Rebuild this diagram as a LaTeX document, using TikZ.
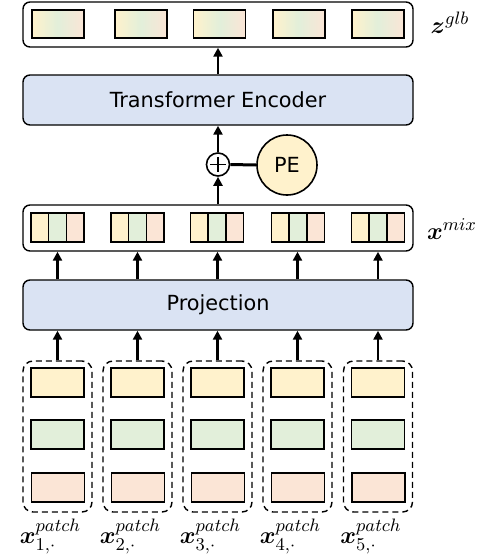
\documentclass[tikz,border=0pt]{standalone}
\usepackage{amsmath,bm}
\usepackage{fontspec}
\setsansfont{DejaVu Sans}
\usetikzlibrary{arrows.meta}
\definecolor{cy}{HTML}{FFF2CC}
\definecolor{cg}{HTML}{E2EFDA}
\definecolor{cp}{HTML}{FBE5D6}
\definecolor{cb}{HTML}{DAE3F3}
\def\u{0.5pt}
\tikzset{
  outer/.style={draw, rounded corners=3.5pt, line width=0.7pt, minimum width=390*\u, minimum height=46*\u, inner sep=0pt},
  blk/.style={draw, line width=0.7pt, rounded corners=3.5pt, fill=cb, minimum width=390*\u, minimum height=50*\u, font=\sffamily\fontsize{10.4}{12}\selectfont},
  cell/.style={draw, line width=0.8pt, minimum width=53*\u, minimum height=29*\u, inner sep=0pt},
  sub/.style={draw, line width=0.8pt, minimum width=53/3*\u, minimum height=29*\u, inner sep=0pt},
  grp/.style={draw, dashed, dash pattern=on 3pt off 2pt, line width=0.7pt, rounded corners=5pt, minimum width=69*\u, minimum height=151*\u, inner sep=0pt},
  arr/.style={-{Triangle[length=4.5pt,width=4.5pt]}, line width=1.4pt},
  lab/.style={inner sep=0pt, font=\fontsize{12.5}{14}\selectfont}
}
\begin{document}
\begin{tikzpicture}[x=\u, y=-\u]
\useasboundingbox (0,0) rectangle (489,559);
% top global box
\node[outer, minimum height=45*\u] (glb) at (218,24.5) {};
\foreach \i/\x in {1/58,2/141,3/219.5,4/299,5/378}{
  \shade[left color=cy, right color=cp, middle color=cg] (\x-26,10) rectangle (\x+26,38);
  \node[cell, minimum width=52*\u, minimum height=28*\u] (g\i) at (\x,24) {};
}
\node[lab] (zl) at (450,23) {$\bm{z}^{glb}$};
% transformer
\node[blk] (te) at (218,100) {Transformer Encoder};
% plus and PE
\node[draw, circle, line width=0.8pt, minimum size=23*\u, inner sep=0pt] (plus) at (218,164.5) {};
\draw[line width=0.8pt] ([yshift=-2.3pt]plus.north) -- ([yshift=2.3pt]plus.south) ([xshift=2.3pt]plus.west) -- ([xshift=-2.3pt]plus.east);
\node[draw, circle, fill=cy, line width=0.8pt, minimum size=60*\u, inner sep=0pt, font=\sffamily\fontsize{10.4}{12}\selectfont] (pe) at (287,165) {PE};
\draw[line width=1.5pt] (plus.east) -- (pe.west);
% mix box
\node[outer] (mix) at (218,228) {};
\foreach \i/\x in {1/57.5,2/137.5,3/217,4/298,5/378}{
  \node[sub, fill=cy] (m\i a) at (\x-53/3,227.5) {};
  \node[sub, fill=cg] (m\i b) at (\x,227.5) {};
  \node[sub, fill=cp] (m\i c) at (\x+53/3,227.5) {};
}
\node[lab] (xl) at (452,229) {$\bm{x}^{mix}$};
% projection
\node[blk] (proj) at (218,305) {Projection};
% patch groups
\foreach \i/\x in {1/57.5,2/137.5,3/217.5,4/297.5,5/378}{
  \node[grp] (d\i) at (\x,436.5) {};
  \node[cell, fill=cy] (p\i a) at (\x,382.5) {};
  \node[cell, fill=cg] (p\i b) at (\x,434.5) {};
  \node[cell, fill=cp] (p\i c) at (\x+0.5,487.5) {};
  \node[lab, anchor=north] (pl\i) at (\x-7,519) {$\bm{x}^{patch}_{\i,\cdot}$};
  \draw[arr] (d\i.north) -- (d\i.north |- proj.south);
  \draw[arr] (proj.north -| d\i.north) -- (mix.south -| d\i.north);
}
% vertical arrows in the middle
\draw[arr] (mix.north -| plus.south) -- (plus.south);
\draw[arr] (plus.north) -- (te.south -| plus.north);
\draw[arr] (te.north) -- (glb.south);
\end{tikzpicture}
\end{document}
